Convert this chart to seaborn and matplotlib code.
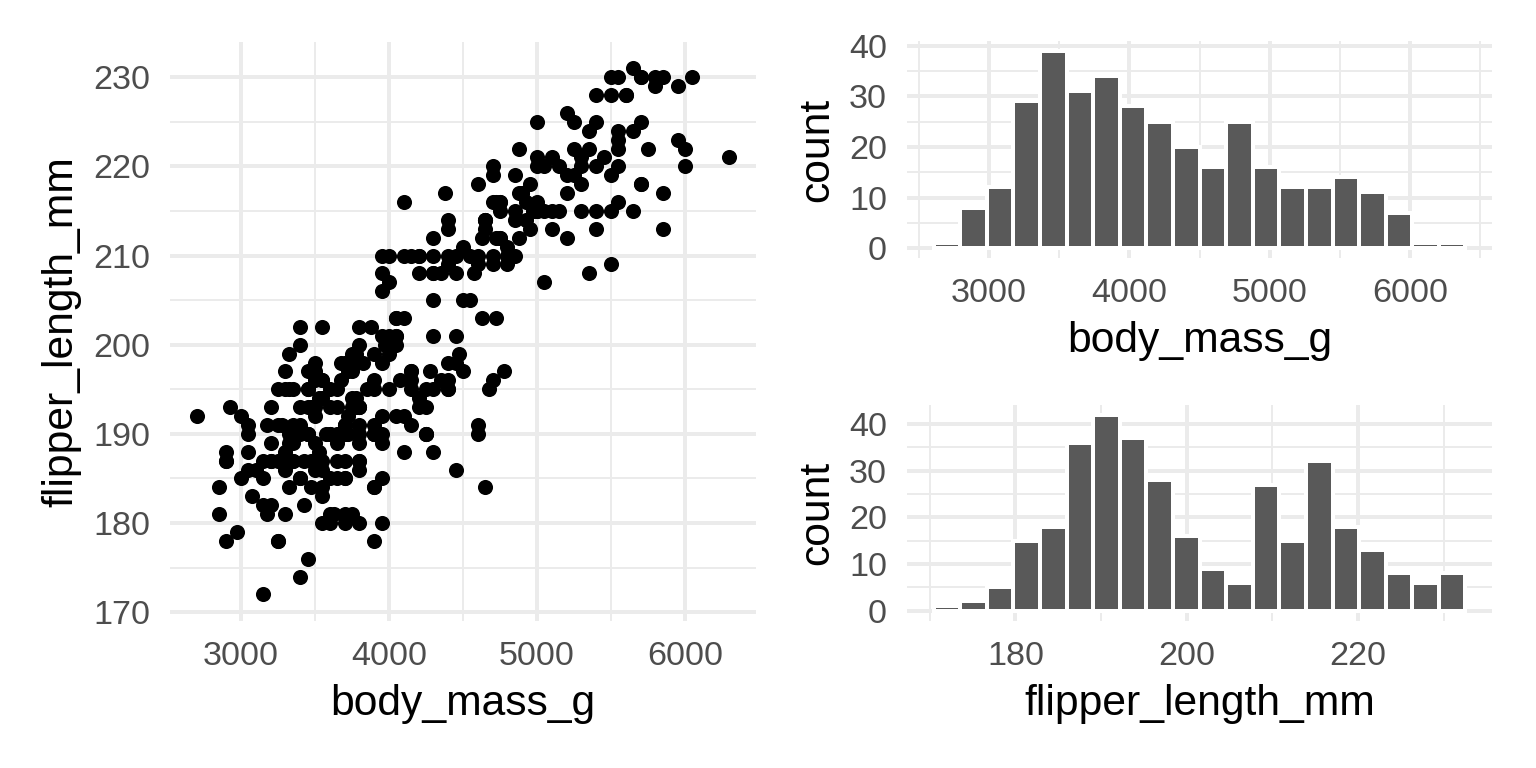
import matplotlib
matplotlib.use("Agg")
import matplotlib.pyplot as plt
from matplotlib.ticker import MultipleLocator
import seaborn as sns
import pandas as pd

# penguins: body mass (g) and flipper length (mm), rows with NA dropped
adelie_mass = [3750, 3800, 3250, 3450, 3650, 3625, 4675, 3475, 4250, 3300,
               3700, 3200, 3800, 4400, 3700, 3450, 4500, 3325, 4200, 3400,
               3600, 3800, 3950, 3800, 3800, 3550, 3200, 3150, 3950, 3250,
               3900, 3300, 3900, 3325, 4150, 3950, 3550, 3300, 4650, 3150,
               3900, 3100, 4400, 3000, 4600, 3425, 2975, 3450, 4150, 3500,
               4300, 3450, 4050, 2900, 3700, 3550, 3800, 2850, 3750, 3150,
               4400, 3600, 4050, 2850, 3950, 3350, 4100, 3050, 4450, 3600,
               3900, 3550, 4150, 3700, 4250, 3700, 3900, 3550, 4000, 3200,
               4700, 3800, 4200, 3350, 3550, 3800, 3500, 3950, 3600, 3550,
               4300, 3400, 4450, 3300, 4300, 3700, 4350, 2900, 4100, 3725,
               4725, 3075, 4250, 2925, 3550, 3750, 3900, 3175, 4775, 3825,
               4600, 3200, 4275, 3900, 4075, 2900, 3775, 3350, 3325, 3150,
               3500, 3450, 3875, 3050, 4000, 3275, 4300, 3050, 4000, 3325,
               3500, 3500, 4475, 3425, 3900, 3175, 3975, 3400, 4250, 3400,
               3475, 3050, 3725, 3000, 3650, 4250, 3475, 3450, 3750, 3700,
               4000]
adelie_flipper = [181, 186, 195, 193, 190, 181, 195, 193, 190, 186,
                  180, 182, 191, 198, 185, 195, 197, 184, 194, 174,
                  180, 189, 185, 180, 187, 183, 187, 172, 180, 178,
                  178, 188, 184, 195, 196, 190, 180, 181, 184, 182,
                  195, 186, 196, 185, 190, 182, 179, 190, 191, 186,
                  188, 190, 200, 187, 191, 186, 193, 181, 194, 185,
                  195, 185, 192, 184, 192, 195, 188, 190, 198, 190,
                  190, 196, 197, 190, 195, 191, 184, 187, 195, 189,
                  196, 187, 193, 191, 194, 190, 189, 189, 190, 202,
                  205, 185, 186, 187, 208, 190, 196, 178, 192, 192,
                  203, 183, 190, 193, 184, 199, 190, 181, 197, 198,
                  191, 193, 197, 191, 196, 188, 199, 189, 189, 187,
                  198, 176, 202, 186, 199, 191, 195, 191, 210, 190,
                  197, 193, 199, 187, 190, 191, 200, 185, 193, 193,
                  187, 188, 190, 192, 185, 190, 184, 195, 193, 187,
                  201]

gentoo_mass = [4500, 5700, 4450, 5700, 5400, 4550, 4800, 5200, 4400, 5150,
               4650, 5550, 4650, 5850, 4200, 5850, 4150, 6300, 4800, 5350,
               5700, 5000, 4400, 5050, 5000, 5100, 4100, 5650, 4600, 5550,
               5250, 4700, 5050, 6050, 5150, 5400, 4950, 5250, 4350, 5350,
               3950, 5700, 4300, 4750, 5550, 4900, 4200, 5400, 5100, 5300,
               4850, 5300, 4400, 5000, 4900, 5050, 4300, 5000, 4450, 5550,
               4200, 5300, 4400, 5650, 4700, 5700, 4650, 5800, 4700, 5550,
               4750, 5000, 5100, 5200, 4700, 5800, 4600, 6000, 4750, 5950,
               4625, 5450, 4725, 5350, 4750, 5600, 4600, 5300, 4875, 5550,
               4950, 5400, 4750, 5650, 4850, 5200, 4925, 4875, 4625, 5250,
               4850, 5600, 4975, 5500, 4725, 5500, 4700, 5500, 4575, 5500,
               5000, 5950, 4650, 5500, 4375, 5850, 4875, 6000, 4925, 4850,
               5750, 5200, 5400]
gentoo_flipper = [211, 230, 210, 218, 215, 210, 211, 219, 209, 215,
                  214, 216, 214, 213, 210, 217, 210, 221, 209, 222,
                  218, 215, 213, 215, 215, 215, 216, 215, 210, 220,
                  222, 209, 207, 230, 220, 220, 213, 219, 208, 208,
                  208, 225, 210, 216, 222, 217, 210, 225, 213, 215,
                  210, 220, 210, 225, 217, 220, 208, 220, 208, 224,
                  208, 221, 214, 231, 219, 230, 214, 229, 220, 223,
                  216, 221, 221, 217, 216, 230, 209, 220, 215, 223,
                  212, 221, 212, 224, 212, 228, 218, 218, 212, 230,
                  218, 228, 212, 224, 214, 226, 216, 222, 203, 225,
                  219, 228, 215, 228, 216, 215, 210, 219, 208, 209,
                  216, 229, 213, 230, 217, 230, 217, 222, 214, 215,
                  222, 212, 213]

chinstrap_mass = [3500, 3900, 3650, 3525, 3725, 3950, 3250, 3750, 4150, 3700,
                  3800, 3775, 3700, 4050, 3575, 4050, 3300, 3700, 3450, 4400,
                  3600, 3400, 2900, 3800, 3300, 4150, 3400, 3800, 3700, 4550,
                  3200, 4300, 3350, 4100, 3600, 3900, 3850, 4800, 2700, 4500,
                  3950, 3650, 3550, 3500, 3675, 4450, 3400, 4300, 3250, 3675,
                  3325, 3950, 3600, 4050, 3350, 3450, 3250, 4050, 3800, 3525,
                  3950, 3650, 3650, 4000, 3400, 3775, 4100, 3775]
chinstrap_flipper = [192, 196, 193, 188, 197, 198, 178, 197, 195, 198,
                     193, 194, 185, 201, 190, 201, 197, 181, 190, 195,
                     181, 191, 187, 193, 195, 197, 200, 200, 191, 205,
                     187, 201, 187, 203, 195, 199, 195, 210, 192, 205,
                     210, 187, 196, 196, 196, 201, 190, 212, 187, 198,
                     199, 201, 193, 203, 187, 197, 191, 203, 202, 194,
                     206, 189, 195, 207, 202, 193, 210, 198]

df = pd.DataFrame({
    "body_mass_g": adelie_mass + gentoo_mass + chinstrap_mass,
    "flipper_length_mm": adelie_flipper + gentoo_flipper + chinstrap_flipper,
})

sns.set_theme(style="whitegrid")
plt.rcParams["font.family"] = ["Liberation Sans", "DejaVu Sans"]

fig = plt.figure(figsize=(8, 4), dpi=192)
ax_sc = fig.add_axes([0.1107, 0.1918, 0.3815, 0.7535])
ax_h1 = fig.add_axes([0.5905, 0.6641, 0.3809, 0.2826])
ax_h2 = fig.add_axes([0.5905, 0.1920, 0.3809, 0.2807])

# scatter
sns.scatterplot(data=df, x="body_mass_g", y="flipper_length_mm", ax=ax_sc,
                color="black", s=32, linewidth=0)
ax_sc.margins(0.05)


def gg_hist(ax, col):
    # ggplot-style bins=20: bins centred on min and max, closed on the right
    lo, hi = df[col].min(), df[col].max()
    w = (hi - lo) / 19
    eps = w * 1e-6
    sns.histplot(data=df, x=col, bins=20,
                 binrange=(lo - w / 2 + eps, hi + w / 2 + eps),
                 ax=ax, color="#595959", edgecolor="white", linewidth=1.5,
                 alpha=1)
    for p in ax.patches:
        p.sticky_edges.y[:] = []
    ax.margins(0.05)
    ax.autoscale_view()
    ax.set_ylabel("count")


gg_hist(ax_h1, "body_mass_g")
gg_hist(ax_h2, "flipper_length_mm")

ax_sc.xaxis.set_major_locator(MultipleLocator(1000))
ax_sc.xaxis.set_minor_locator(MultipleLocator(500))
ax_sc.yaxis.set_major_locator(MultipleLocator(10))
ax_sc.yaxis.set_minor_locator(MultipleLocator(5))
ax_h1.xaxis.set_major_locator(MultipleLocator(1000))
ax_h1.xaxis.set_minor_locator(MultipleLocator(500))
ax_h2.xaxis.set_major_locator(MultipleLocator(20))
ax_h2.xaxis.set_minor_locator(MultipleLocator(10))
for ax in (ax_h1, ax_h2):
    ax.yaxis.set_major_locator(MultipleLocator(10))
    ax.yaxis.set_minor_locator(MultipleLocator(5))

for ax in (ax_sc, ax_h1, ax_h2):
    ax.set_facecolor("white")
    for s in ax.spines.values():
        s.set_visible(False)
    ax.grid(which="major", color="#EBEBEB", linewidth=1.5)
    ax.grid(which="minor", color="#EBEBEB", linewidth=0.75)
    ax.set_axisbelow(True)
    ax.tick_params(which="both", length=0, pad=7.5, labelsize=12.8,
                   labelcolor="#4D4D4D")
    ax.xaxis.label.set_size(16)
    ax.yaxis.label.set_size(16)
    ax.xaxis.label.set_color("black")
    ax.yaxis.label.set_color("black")
    ax.xaxis.labelpad = 4.5
    ax.yaxis.labelpad = 4.5

fig.savefig("out.png", dpi=192, facecolor="white")
